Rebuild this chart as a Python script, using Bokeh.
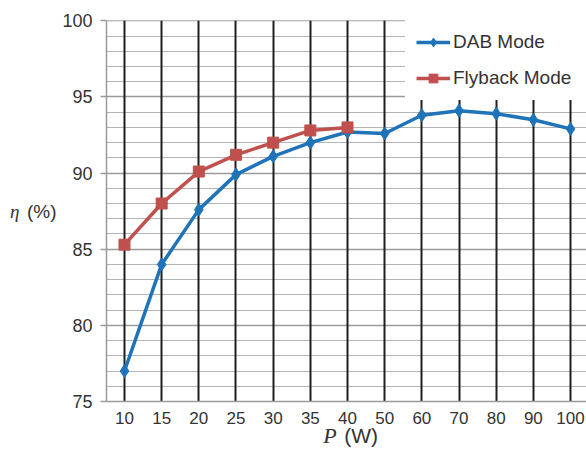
from bokeh.plotting import figure
from bokeh.models import (Range1d, FixedTicker, SingleIntervalTicker, LinearAxis, Legend, LegendItem)
from bokeh.embed import file_html
from bokeh.resources import INLINE

power_labels = ["10", "15", "20", "25", "30", "35", "40", "50", "60", "70", "80", "90", "100"]
dab_eff = [77.0, 84.0, 87.6, 89.9, 91.1, 92.0, 92.7, 92.6, 93.8, 94.1, 93.9, 93.5, 92.9]
flyback_labels = ["10", "15", "20", "25", "30", "35", "40"]
flyback_eff = [85.3, 88.0, 90.1, 91.2, 92.0, 92.8, 93.0]

x_dab = [power_labels.index(c) for c in power_labels]
x_fly = [power_labels.index(c) for c in flyback_labels]

DAB_COLOR = "#1f73b8"
FLY_COLOR = "#c0504d"
TEXT = "#333333"
NB = "\u00a0"

X0, X1 = -0.484, 12.43
p = figure(width=586, height=453, output_backend="svg", toolbar_location=None,
           x_range=Range1d(X0, X1), y_range=Range1d(75, 100.02),
           min_border_left=106, min_border_right=0, min_border_top=20, min_border_bottom=52)
p.outline_line_color = None
p.background_fill_color = "white"

# x axis
p.xaxis.ticker = FixedTicker(ticks=list(range(len(power_labels))))
p.xaxis.major_label_overrides = {i: lab for i, lab in enumerate(power_labels)}
p.xaxis.major_tick_out = 0
p.xaxis.major_tick_in = 0
p.xaxis.minor_tick_out = 0
p.xaxis.axis_line_color = "#9a9a9a"
p.xaxis.axis_line_width = 1.5
p.xaxis.major_label_text_font = "Liberation Sans"
p.xaxis.major_label_text_font_size = "17px"
p.xaxis.major_label_text_color = TEXT
p.xaxis.major_label_standoff = 10

# y axis
p.yaxis.ticker = SingleIntervalTicker(interval=5, num_minor_ticks=5)
p.yaxis.major_tick_out = 6
p.yaxis.major_tick_in = 0
p.yaxis.minor_tick_out = 0
p.yaxis.minor_tick_in = 0
p.yaxis.major_tick_line_color = "#9a9a9a"
p.yaxis.major_tick_line_width = 1.5
p.yaxis.axis_line_color = "#9a9a9a"
p.yaxis.axis_line_width = 1.5
p.yaxis.major_label_text_font = "Liberation Sans"
p.yaxis.major_label_text_font_size = "18px"
p.yaxis.major_label_text_color = TEXT
p.yaxis.major_label_standoff = 8
p.yaxis.axis_label = "(%)"
p.yaxis.axis_label_orientation = "horizontal"
p.yaxis.axis_label_text_font = "Liberation Sans"
p.yaxis.axis_label_text_font_style = "normal"
p.yaxis.axis_label_text_font_size = "19px"
p.yaxis.axis_label_text_color = TEXT
p.yaxis.axis_label_standoff = 3

# grids
p.xgrid.ticker = FixedTicker(ticks=list(range(len(power_labels))))
p.xgrid.bounds = (X0, X1)
p.xgrid.grid_line_color = "#1e1e1e"
p.xgrid.grid_line_width = 2
p.ygrid.ticker = SingleIntervalTicker(interval=5, num_minor_ticks=5)
p.ygrid.bounds = (75, 100.02)
p.ygrid.grid_line_color = "#9a9a9a"
p.ygrid.grid_line_width = 1.5
p.ygrid.minor_grid_line_color = "#b4b4b4"
p.ygrid.minor_grid_line_width = 1
p.ygrid.level = "image"

# series
l1 = p.line(x_dab, dab_eff, line_color=DAB_COLOR, line_width=3.5)
m1 = p.scatter(x_dab, dab_eff, marker="diamond", size=13, fill_color=DAB_COLOR, line_color=DAB_COLOR)
l2 = p.line(x_fly, flyback_eff, line_color=FLY_COLOR, line_width=3.5)
m2 = p.scatter(x_fly, flyback_eff, marker="square", size=11, fill_color=FLY_COLOR, line_color=FLY_COLOR)

legend = Legend(items=[LegendItem(label="DAB Mode", renderers=[l1, m1]),
                       LegendItem(label="Flyback Mode", renderers=[l2, m2])],
                location="top_right", margin=0, padding=10, spacing=14,
                glyph_width=34, glyph_height=22, label_height=22, label_width=122,
                label_standoff=3, label_text_font="Liberation Sans",
                label_text_font_size="19px", label_text_color=TEXT,
                border_line_color="white", background_fill_color="white",
                background_fill_alpha=1.0)
p.add_layout(legend, "center")


def title_axis(text, font, style, size, standoff, horizontal=False):
    ax = LinearAxis(ticker=FixedTicker(ticks=[]),
                    axis_label=text, axis_label_text_font=font,
                    axis_label_text_font_style=style, axis_label_text_font_size=size,
                    axis_label_text_color=TEXT, axis_label_standoff=standoff,
                    axis_line_color=None, major_tick_line_color=None,
                    major_tick_out=0, minor_tick_out=0,
                    minor_tick_line_color=None, major_label_text_font_size="0px")
    if horizontal:
        ax.axis_label_orientation = "horizontal"
    return ax


p.add_layout(title_axis(NB * 5 + "(W)", "Liberation Sans", "normal", "21px", -3), "below")
p.add_layout(title_axis("P" + NB * 6, "Liberation Serif", "italic", "22px", -27), "below")
p.add_layout(title_axis("η", "Liberation Serif", "italic", "19px", 4,
                        horizontal=True), "left")

open("out.html", "w").write(file_html(p, INLINE))
